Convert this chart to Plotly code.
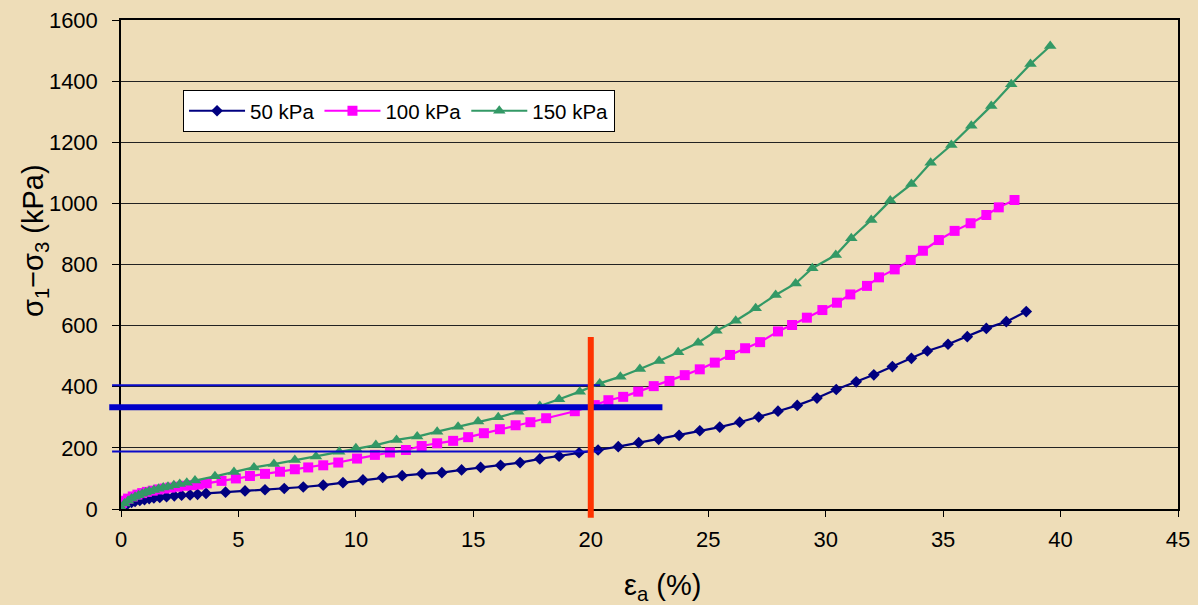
import plotly.graph_objects as go

# ---------------- data ----------------
series_names = ["50 kPa", "100 kPa", "150 kPa"]

eps_50 = [0, 0.1, 0.2, 0.3, 0.45, 0.6, 0.8, 1.0, 1.2, 1.4, 1.65, 1.94, 2.27, 2.58, 2.94, 3.26,
          3.62, 4.45, 5.28, 6.13, 6.95, 7.76, 8.61, 9.45, 10.3, 11.14, 11.97, 12.81, 13.66,
          14.5, 15.31, 16.16, 16.99, 17.83, 18.65, 19.5, 20.31, 21.17, 22.04, 22.89, 23.76,
          24.64, 25.49, 26.34, 27.15, 27.97, 28.79, 29.63, 30.45, 31.3, 32.05, 32.84, 33.65,
          34.33, 35.21, 36.03, 36.84, 37.69, 38.54]
sig_50 = [0, 8, 14, 18, 22, 25, 28, 31, 34, 36, 38, 40, 43, 45, 46, 48,
          51, 55, 59, 63, 67, 72, 78, 86, 95, 103, 109, 115, 119,
          128, 136, 143, 152, 164, 173, 184, 193, 204, 217, 228, 241,
          256, 268, 284, 301, 320, 339, 363, 391, 416, 439, 466, 493,
          517, 539, 564, 591, 613, 646]

eps_100 = [0, 0.05, 0.15, 0.3, 0.5, 0.7, 0.9, 1.1, 1.35, 1.6, 1.85, 2.1, 2.4, 2.7, 3.0, 3.3,
           3.65, 4.28, 4.89, 5.49, 6.13, 6.77, 7.4, 7.97, 8.61, 9.25, 10.05, 10.81, 11.45,
           12.13, 12.8, 13.46, 14.14, 14.78, 15.45, 16.13, 16.8, 17.43, 18.1, 19.32, 20.17,
           20.75, 21.38, 22.02, 22.68, 23.35, 24.0, 24.64, 25.28, 25.93, 26.57, 27.21, 27.97,
           28.57, 29.2, 29.86, 30.48, 31.05, 31.76, 32.27, 32.94, 33.62, 34.14, 34.82, 35.49,
           36.17, 36.84, 37.37, 38.04]
sig_100 = [15, 20, 27, 34, 41, 47, 52, 56, 60, 64, 67, 70, 73, 76, 78, 80,
           84, 92, 100, 108, 115, 122, 130, 136, 143, 152, 165, 177, 185,
           193, 206, 215, 223, 235, 248, 261, 274, 284, 297, 320, 340,
           356, 367, 384, 402, 419, 438, 457, 479, 504, 526, 546, 581,
           602, 626, 651, 675, 702, 730, 758, 784, 815, 845, 880, 910,
           935, 962, 987, 1011]

eps_150 = [0, 0.15, 0.3, 0.45, 0.6, 0.75, 0.9, 1.05, 1.2, 1.4, 1.6, 1.8, 2.0, 2.25, 2.5, 2.8,
           3.15, 4.0, 4.81, 5.66, 6.51, 7.4, 8.3, 9.29, 10.0, 10.85, 11.73, 12.61, 13.46,
           14.35, 15.2, 16.06, 16.91, 17.83, 18.65, 19.53, 20.38, 21.26, 22.09, 22.91, 23.72,
           24.57, 25.35, 26.17, 27.02, 27.87, 28.72, 29.43, 30.43, 31.09, 31.94, 32.75, 33.65,
           34.47, 35.35, 36.2, 37.05, 37.9, 38.72, 39.56]
sig_150 = [5, 18, 27, 34, 40, 45, 50, 54, 58, 62, 66, 70, 73, 78, 82, 86,
           93, 107, 121, 136, 147, 160, 172, 187, 199, 209, 226, 237, 253,
           269, 286, 300, 318, 337, 359, 384, 411, 433, 458, 484, 513,
           544, 583, 616, 657, 700, 738, 788, 831, 886, 946, 1009, 1063,
           1133, 1191, 1254, 1319, 1390, 1456, 1515]

x_ticks = [0, 5, 10, 15, 20, 25, 30, 35, 40, 45]
y_ticks = [0, 200, 400, 600, 800, 1000, 1200, 1400, 1600]

x_title = "ε<sub>a</sub> (%)"
y_title = "σ<sub>1</sub>−σ<sub>3</sub> (kPa)"

# reference guide lines (data units)
ref_strain = 20.0
ref_strain_span = [-29, 563]
thin_levels = [405, 188]
thin_span = [-0.38, 20.4]
thick_level = 333
thick_span = [-0.5, 23.05]

X_MIN, X_MAX = 0, 45
Y_MIN, Y_MAX = 0, 1600

# ---------------- figure ----------------
FONT = "Liberation Sans, Arial, sans-serif"
colors = ["#000080", "#FF00FF", "#339966"]
symbols = ["diamond", "square", "triangle-up"]
msizes = [9, 10, 11]

fig = go.Figure()
for name, xs, ys, c, s, ms in zip(series_names, [eps_50, eps_100, eps_150],
                                  [sig_50, sig_100, sig_150], colors, symbols, msizes):
    fig.add_trace(go.Scatter(
        x=xs, y=ys, name=name, mode="lines+markers",
        line=dict(color=c, width=2.2),
        marker=dict(symbol=s, size=ms, color=c, line=dict(width=0)),
    ))


def px(v):
    return (v - X_MIN) / (X_MAX - X_MIN)


def py(v):
    return (v - Y_MIN) / (Y_MAX - Y_MIN)


shapes = []
for lvl in thin_levels:
    shapes.append(dict(type="line", xref="paper", yref="paper",
                       x0=px(thin_span[0]), x1=px(thin_span[1]), y0=py(lvl), y1=py(lvl),
                       line=dict(color="#0a0ac8", width=2)))
shapes.append(dict(type="line", xref="paper", yref="paper",
                   x0=px(thick_span[0]), x1=px(thick_span[1]),
                   y0=py(thick_level), y1=py(thick_level),
                   line=dict(color="#0000c8", width=6)))
shapes.append(dict(type="line", xref="paper", yref="paper",
                   x0=px(ref_strain), x1=px(ref_strain),
                   y0=py(ref_strain_span[0]), y1=py(ref_strain_span[1]),
                   line=dict(color="#ff3300", width=6)))

annotations = [
    dict(text=y_title, xref="paper", yref="paper", x=-0.0814, y=0.55,
         xanchor="center", yanchor="middle", textangle=-90, showarrow=False,
         font=dict(family=FONT, size=29, color="black")),
    dict(text=x_title, xref="paper", yref="paper", x=0.512, y=-0.16,
         xanchor="center", yanchor="middle", showarrow=False,
         font=dict(family=FONT, size=29, color="black")),
]

fig.update_layout(
    width=1198, height=605,
    margin=dict(l=121, r=20, t=20, b=96, autoexpand=False),
    paper_bgcolor="#EEDDB8",
    plot_bgcolor="rgba(0,0,0,0)",
    font=dict(family=FONT, color="black", size=20),
    showlegend=True,
    legend=dict(
        orientation="h", x=0.0587, y=0.857, xanchor="left", yanchor="top",
        bgcolor="white", bordercolor="black", borderwidth=1,
        font=dict(family=FONT, size=20.5, color="black"),
        itemwidth=56,
    ),
    shapes=shapes,
    annotations=annotations,
    xaxis=dict(
        range=[X_MIN, X_MAX], tickvals=x_ticks, ticks="outside", ticklen=6,
        tickcolor="black", showline=True, linecolor="black", linewidth=1.5,
        mirror=True, showgrid=False, zeroline=False, ticklabelstandoff=4,
        tickfont=dict(family=FONT, size=22),
    ),
    yaxis=dict(
        range=[Y_MIN, Y_MAX], tickvals=y_ticks, ticks="outside", ticklen=7,
        tickcolor="black", showline=True, linecolor="black", linewidth=1.5,
        mirror=True, showgrid=True, gridcolor="#222222", gridwidth=1, zeroline=False,
        ticklabelstandoff=10,
        tickfont=dict(family=FONT, size=22),
    ),
)

fig.write_html("out.html", config={"displayModeBar": False},
               post_script="document.body.style.margin='0';")
